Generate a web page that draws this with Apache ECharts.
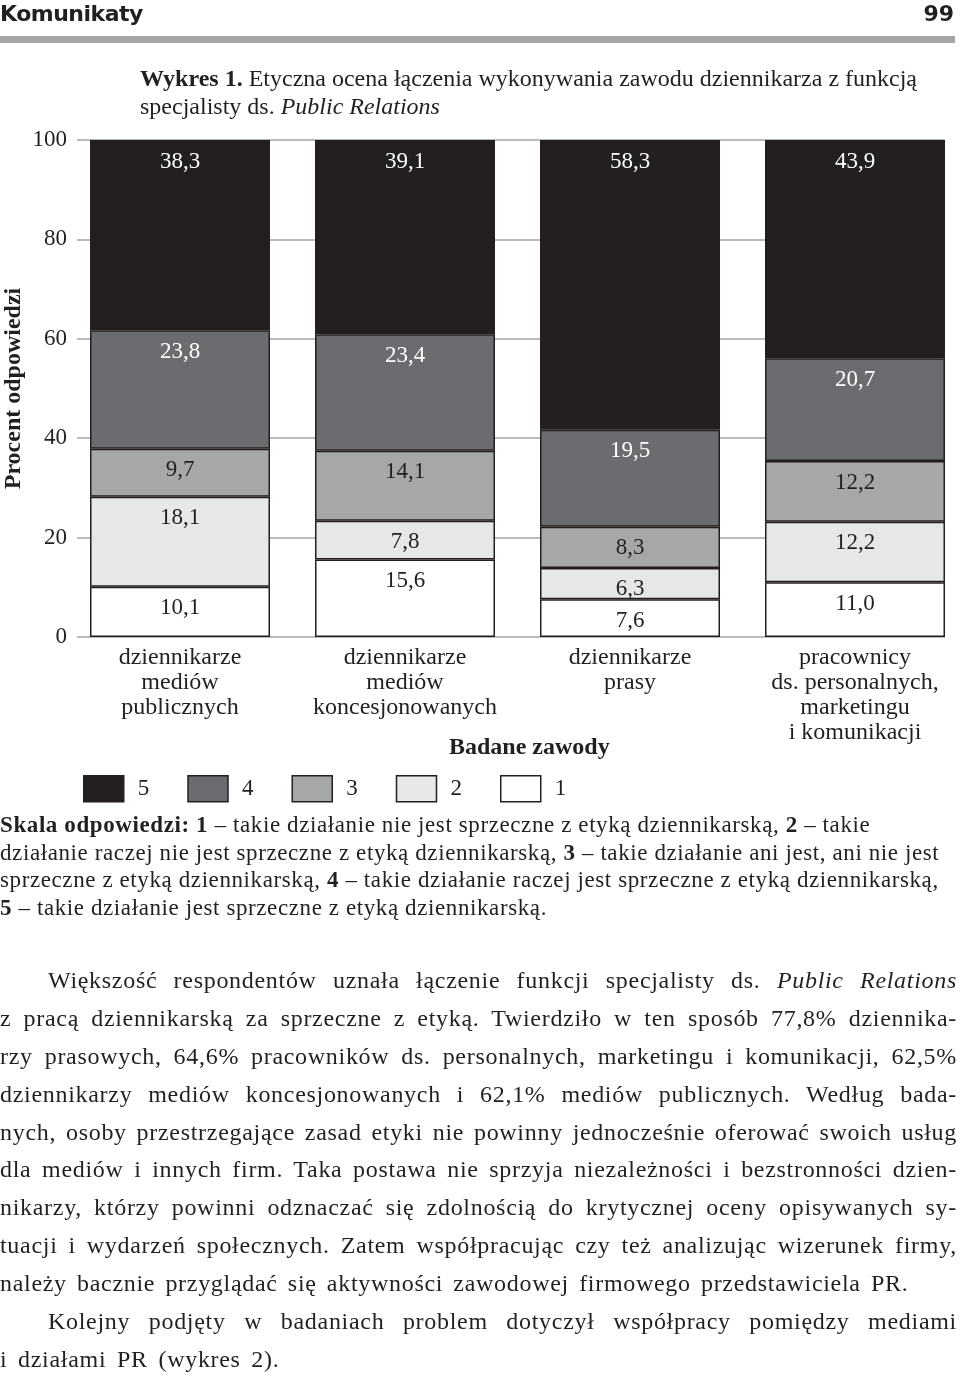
<!DOCTYPE html>
<html>
<head>
<meta charset="utf-8">
<script src="https://cdn.jsdelivr.net/npm/echarts@6/dist/echarts.min.js"></script>
<style>
  html, body { margin: 0; padding: 0; background: #fff; }
  body { width: 960px; height: 1377px; position: relative; overflow: hidden; color: #231f20; font-family: "Liberation Serif", serif; }
  #chart { position: absolute; left: 0; top: 0; width: 980px; height: 1377px; }
  .abs { position: absolute; white-space: nowrap; }
  #hdr { left: 0; top: 0; font-family: "DejaVu Sans", sans-serif; font-weight: bold; font-size: 22px; letter-spacing: -0.5px; line-height: 28px; }
  #pg { right: 6px; top: 0; font-family: "DejaVu Sans", sans-serif; font-weight: bold; font-size: 22px; line-height: 28px; }
  #bar { left: 0; top: 36px; width: 955px; height: 7px; background: #a6a6a8; }
  #title { left: 140px; top: 64px; font-size: 24px; line-height: 28px; }
  #scale { left: 0; top: 811px; font-size: 23px; line-height: 27.5px; letter-spacing: 0.6px; }
  #body { left: 0; top: 962px; width: 957px; font-size: 24px; line-height: 37.9px; letter-spacing: 0.7px; }
  #body .l { text-align: justify; text-align-last: justify; white-space: nowrap; height: 37.9px; }
  #body .n { text-align: left; text-align-last: left; }
  #body .i { padding-left: 48px; }
</style>
</head>
<body>
<div id="chart"></div>
<div id="hdr" class="abs">Komunikaty</div>
<div id="pg" class="abs">99</div>
<div id="bar" class="abs"></div>
<div id="title" class="abs"><b>Wykres 1.</b> Etyczna ocena łączenia wykonywania zawodu dziennikarza z funkcją<br>specjalisty ds. <i>Public Relations</i></div>
<div id="scale" class="abs"><b>Skala odpowiedzi: 1</b> – takie działanie nie jest sprzeczne z etyką dziennikarską, <b>2</b> – takie<br>działanie raczej nie jest sprzeczne z etyką dziennikarską, <b>3</b> – takie działanie ani jest, ani nie jest<br>sprzeczne z etyką dziennikarską, <b>4</b> – takie działanie raczej jest sprzeczne z etyką dziennikarską,<br><b>5</b> – takie działanie jest sprzeczne z etyką dziennikarską.</div>
<div id="body" class="abs">
  <div class="l i">Większość respondentów uznała łączenie funkcji specjalisty ds. <i>Public Relations</i></div>
  <div class="l">z pracą dziennikarską za sprzeczne z etyką. Twierdziło w ten sposób 77,8% dziennika-</div>
  <div class="l">rzy prasowych, 64,6% pracowników ds. personalnych, marketingu i komunikacji, 62,5%</div>
  <div class="l">dziennikarzy mediów koncesjonowanych i 62,1% mediów publicznych. Według bada-</div>
  <div class="l">nych, osoby przestrzegające zasad etyki nie powinny jednocześnie oferować swoich usług</div>
  <div class="l">dla mediów i innych firm. Taka postawa nie sprzyja niezależności i bezstronności dzien-</div>
  <div class="l">nikarzy, którzy powinni odznaczać się zdolnością do krytycznej oceny opisywanych sy-</div>
  <div class="l">tuacji i wydarzeń społecznych. Zatem współpracując czy też analizując wizerunek firmy,</div>
  <div class="l n" style="word-spacing:3.5px">należy bacznie przyglądać się aktywności zawodowej firmowego przedstawiciela PR.</div>
  <div class="l i">Kolejny podjęty w badaniach problem dotyczył współpracy pomiędzy mediami</div>
  <div class="l n" style="word-spacing:4px">i działami PR (wykres 2).</div>
</div>
<script>
// ---- data ----
const categories = [
  'dziennikarze\nmediów\npublicznych',
  'dziennikarze\nmediów\nkoncesjonowanych',
  'dziennikarze\nprasy',
  'pracownicy\nds. personalnych,\nmarketingu\ni komunikacji'
];
const seriesNames = ['1', '2', '3', '4', '5'];
const s1 = [10.1, 15.6, 7.6, 11.0];
const s2 = [18.1, 7.8, 6.3, 12.2];
const s3 = [9.7, 14.1, 8.3, 12.2];
const s4 = [23.8, 23.4, 19.5, 20.7];
const s5 = [38.3, 39.1, 58.3, 43.9];
const yTicks = [0, 20, 40, 60, 80, 100];
const legendOrder = ['5', '4', '3', '2', '1'];

const fills = ['#ffffff', '#e6e7e8', '#a6a7a9', '#6b6c6f', '#231f20'];
const labelColors = ['#231f20', '#231f20', '#231f20', '#ffffff', '#ffffff'];
const values = [s1, s2, s3, s4, s5];
const FONT = '"Liberation Serif", serif';
const INK = '#231f20';

const chart = echarts.init(document.getElementById('chart'), null, { renderer: 'canvas' });

const series = values.map((v, i) => ({
  name: seriesNames[i],
  type: 'bar',
  stack: 'all',
  xAxisIndex: 0,
  yAxisIndex: 0,
  barWidth: 180,
  data: v,
  itemStyle: { color: fills[i], borderColor: INK, borderWidth: 1.5 },
  label: {
    show: true,
    position: 'insideTop',
    distance: 10,
    fontFamily: FONT,
    fontSize: 23,
    color: labelColors[i],
    formatter: p => p.value.toFixed(1).replace('.', ',')
  },
  emphasis: { disabled: true },
  animation: false
}));

chart.setOption({
  animation: false,
  grid: [
    { left: 67.5, right: 12.5, top: 140, bottom: 740, outerBoundsMode: 'none', containLabel: false },
    { left: 77, right: 35, top: 140, bottom: 740, outerBoundsMode: 'none', containLabel: false }
  ],
  xAxis: [
    {
      gridIndex: 0, type: 'category', data: categories,
      axisLine: { show: false }, axisTick: { show: false },
      axisLabel: { fontFamily: FONT, fontSize: 24, lineHeight: 25, color: INK, margin: 8, interval: 0 }
    },
    { gridIndex: 1, type: 'value', min: 0, max: 1, show: false }
  ],
  yAxis: [
    { gridIndex: 0, type: 'value', min: yTicks[0], max: yTicks[yTicks.length - 1], interval: yTicks[1] - yTicks[0], show: false },
    {
      gridIndex: 1, type: 'value', min: yTicks[0], max: yTicks[yTicks.length - 1], interval: yTicks[1] - yTicks[0],
      axisLine: { show: false }, axisTick: { show: false },
      splitLine: { show: true, lineStyle: { color: '#a3a3a3', width: 1.5 } },
      axisLabel: { fontFamily: FONT, fontSize: 23, color: INK, margin: 10 },
      name: 'Procent odpowiedzi', nameLocation: 'middle', nameRotate: 90, nameGap: 51,
      nameMoveOverlap: false,
      nameTextStyle: { fontFamily: FONT, fontSize: 24, fontWeight: 'bold', color: INK }
    }
  ],
  legend: {
    data: legendOrder,
    left: 83, top: 775, padding: 0,
    itemWidth: 40, itemHeight: 26, itemGap: 38,
    icon: 'rect',
    itemStyle: { borderColor: INK, borderWidth: 1.5 },
    textStyle: { fontFamily: FONT, fontSize: 23, color: INK, padding: [0, 0, 0, 9] },
    selectedMode: false
  },
  graphic: [
    {
      type: 'text', left: 449, top: 736,
      style: { text: 'Badane zawody', font: 'bold 24px "Liberation Serif", serif', fill: INK }
    }
  ],
  series: series
});
</script>
</body>
</html>
